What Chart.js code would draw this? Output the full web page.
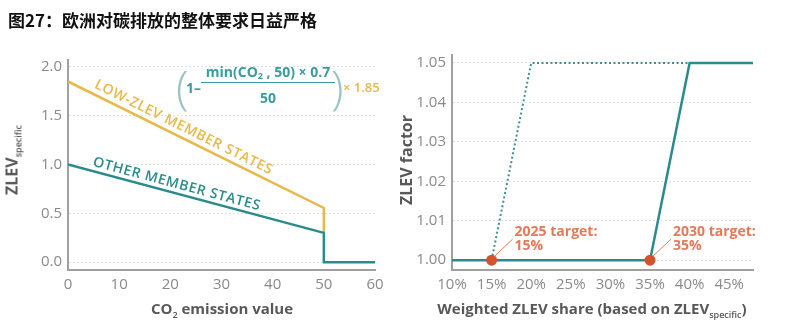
<!DOCTYPE html>
<html>
<head>
<meta charset="utf-8">
<script src="https://cdn.jsdelivr.net/npm/chart.js@4.4.0/dist/chart.umd.min.js"></script>
<style>
  body { margin: 0; background: #fff; }
  #wrap { position: relative; width: 810px; height: 335px; overflow: hidden; font-family: "Open Sans", sans-serif; }
  canvas { position: absolute; top: 0; }
  .t { position: absolute; white-space: nowrap; line-height: 1; }
  .title { left: 8px; top: 7px; font: 700 17px "Noto Sans CJK SC", sans-serif; color: #111; }
  .axt { font-weight: 700; font-size: 15px; color: #585858; transform: translate(-50%, -50%); }
  .axt sub { font-size: 9px; font-weight: 600; vertical-align: -4px; }
  .rot { transform: translate(-50%, -50%) rotate(-90deg); }
  .f { color: #3a9c9c; font-weight: 700; font-size: 14px; }
  .f sub { font-size: 9px; vertical-align: -2px; }
  .par { color: #9cc4c4; font-weight: 300; font-size: 46px; }
</style>
</head>
<body>
<div id="wrap">
  <canvas id="left" width="400" height="335" style="left:0"></canvas>
  <canvas id="right" width="410" height="335" style="left:400px"></canvas>

  <div class="t title">图27：欧洲对碳排放的整体要求日益严格</div>

  <div class="t axt" style="left:222px; top:310px">CO<sub>2</sub> emission value</div>
  <div class="t axt rot" style="left:13px; top:160px; font-size:16px">ZLEV<sub>specific</sub></div>
  <div class="t axt" style="left:592px; top:310px">Weighted ZLEV share (based on ZLEV<sub>specific</sub>)</div>
  <div class="t axt rot" style="left:406px; top:160px; font-size:16px">ZLEV factor</div>

  <div class="t par" style="left:176px; top:63px">(</div>
  <div class="t f" style="left:186px; top:81px">1–</div>
  <div class="t f" style="left:268px; top:65px; transform:translateX(-50%)">min(CO<sub>2</sub> , 50) × 0.7</div>
  <div style="position:absolute; left:201px; top:82px; width:134px; height:0; border-top:1.5px solid #3a9c9c"></div>
  <div class="t f" style="left:268px; top:91px; transform:translateX(-50%)">50</div>
  <div class="t par" style="left:331px; top:63px">)</div>
  <div class="t f" style="left:343px; top:81px; color:#e6b84c; font-size:13px; font-weight:600">× 1.85</div>
</div>

<script>
// left chart: ZLEV_specific vs CO2 emission value
const co2Other = [0, 50, 50, 60];
const zlevOther = [1.0, 0.3, 0, 0];
const co2Low = [0, 50, 50];
const zlevLow = [1.85, 0.555, 0.3];
const leftXTicks = [0, 10, 20, 30, 40, 50, 60];
const leftYTicks = [0, 0.5, 1.0, 1.5, 2.0];

// right chart: ZLEV factor vs weighted ZLEV share (%)
const share2030 = [10, 35, 40, 48];
const factor2030 = [1.00, 1.00, 1.05, 1.05];
const share2025 = [15, 20, 40];
const factor2025 = [1.00, 1.05, 1.05];
const targetShares = [15, 35];
const targetFactors = [1.00, 1.00];
const targetLabels = [['2025 target:', '15%'], ['2030 target:', '35%']];
const rightXTicks = [10, 15, 20, 25, 30, 35, 40, 45];
const rightYTicks = [1.00, 1.01, 1.02, 1.03, 1.04, 1.05];

const TEAL = '#2b8a8b';
const YELLOW = '#e8b84a';
const RED = '#d4532d';
const SALMON = '#e27a5c';

const pts = (xs, ys) => xs.map((x, i) => ({ x: x, y: ys[i] }));
const tickFont = { family: 'Open Sans', size: 15 };

function axisBase(ticksList, fmt, fitSize, isY) {
  return {
    type: 'linear',
    afterBuildTicks: s => { s.ticks = ticksList.map(v => ({ value: v })); },
    afterFit: s => { if (isY) s.width = fitSize; else s.height = fitSize; },
    ticks: { font: tickFont, color: '#8a8a8a', padding: isY ? 6 : 6, callback: fmt, autoSkip: false, maxRotation: 0 },
    grid: { display: isY, drawTicks: false, color: '#e2e2e2', lineWidth: 1 },
    border: { display: true, color: '#a0a0a0', width: 2, dash: [2, 2] }
  };
}

// text running along a line segment
const lineLabels = {
  id: 'lineLabels',
  afterDatasetsDraw(chart, args, opts) {
    const { ctx, scales } = chart;
    (opts.items || []).forEach(it => {
      const x1 = scales.x.getPixelForValue(it.from[0]), y1 = scales.y.getPixelForValue(it.from[1]);
      const x2 = scales.x.getPixelForValue(it.to[0]), y2 = scales.y.getPixelForValue(it.to[1]);
      const ang = Math.atan2(y2 - y1, x2 - x1);
      const px = x1 + (x2 - x1) * it.at, py = y1 + (y2 - y1) * it.at;
      ctx.save();
      ctx.translate(px, py);
      ctx.rotate(ang);
      ctx.font = '600 14px "Open Sans"';
      ctx.letterSpacing = '0.6px';
      ctx.fillStyle = it.color;
      ctx.textBaseline = 'bottom';
      ctx.fillText(it.text, 0, -it.gap);
      ctx.restore();
    });
  }
};

// target dots with leader lines and labels
const targetNotes = {
  id: 'targetNotes',
  afterDatasetsDraw(chart) {
    const { ctx, scales } = chart;
    targetShares.forEach((s, i) => {
      const x = scales.x.getPixelForValue(s), y = scales.y.getPixelForValue(targetFactors[i]);
      ctx.save();
      ctx.strokeStyle = SALMON;
      ctx.lineWidth = 1;
      ctx.beginPath();
      ctx.moveTo(x + 3, y - 4);
      ctx.lineTo(x + 21, y - 21);
      ctx.stroke();
      ctx.font = '700 14px "Open Sans"';
      ctx.fillStyle = SALMON;
      ctx.textBaseline = 'middle';
      ctx.fillText(targetLabels[i][0], x + 23, y - 28);
      ctx.fillText(targetLabels[i][1], x + 23, y - 14);
      ctx.restore();
    });
  }
};

new Chart(document.getElementById('left'), {
  type: 'line',
  data: {
    datasets: [
      { data: pts(co2Other, zlevOther), borderColor: TEAL, borderWidth: 2.5, pointRadius: 0, tension: 0 },
      { data: pts(co2Low, zlevLow), borderColor: YELLOW, borderWidth: 2.5, pointRadius: 0, tension: 0 }
    ]
  },
  options: {
    responsive: false,
    animation: false,
    events: [],
    layout: { padding: { top: 60, right: 25, left: 0, bottom: 0 } },
    scales: {
      x: Object.assign(axisBase(leftXTicks, v => String(v), 65, false), { min: 0, max: 60 }),
      y: Object.assign(axisBase(leftYTicks, v => v.toFixed(1), 68, true), { min: -0.08, max: 2.07 })
    },
    plugins: {
      legend: { display: false },
      tooltip: { enabled: false },
      lineLabels: {
        items: [
          { text: 'LOW-ZLEV MEMBER STATES', from: [0, 1.85], to: [50, 0.555], at: 0.09, gap: 3, color: YELLOW },
          { text: 'OTHER MEMBER STATES', from: [0, 1.0], to: [50, 0.3], at: 0.09, gap: 2, color: TEAL }
        ]
      }
    }
  },
  plugins: [lineLabels]
});

new Chart(document.getElementById('right'), {
  type: 'line',
  data: {
    datasets: [
      { data: pts(targetShares, targetFactors), showLine: false, pointRadius: 5.5, pointBackgroundColor: RED, pointBorderWidth: 0 },
      { data: pts(share2030, factor2030), borderColor: TEAL, borderWidth: 2.5, pointRadius: 0, tension: 0 },
      { data: pts(share2025, factor2025), borderColor: '#3f8f90', borderWidth: 2, borderDash: [2, 2.5], pointRadius: 0, tension: 0 }
    ]
  },
  options: {
    responsive: false,
    animation: false,
    events: [],
    layout: { padding: { top: 55, right: 57, left: 0, bottom: 0 } },
    scales: {
      x: Object.assign(axisBase(rightXTicks, v => v + '%', 65, false), { min: 10, max: 48 }),
      y: Object.assign(axisBase(rightYTicks, v => v.toFixed(2), 52, true), { min: 0.9975, max: 1.052 })
    },
    plugins: { legend: { display: false }, tooltip: { enabled: false } }
  },
  plugins: [targetNotes]
});
</script>
</body>
</html>
